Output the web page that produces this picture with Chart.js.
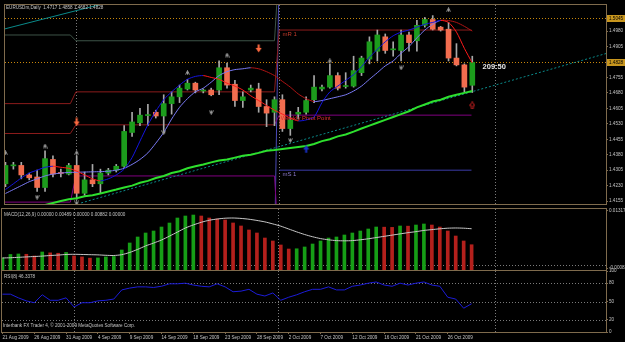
<!DOCTYPE html>
<html><head><meta charset="utf-8"><title>EURUSDm Daily</title>
<script src="https://cdn.jsdelivr.net/npm/chart.js@4/dist/chart.umd.min.js"></script>
<style>
html,body{margin:0;padding:0;background:#000;overflow:hidden}
#wrap{position:relative;width:625px;height:342px;background:#000}
#wrap canvas{position:absolute;left:0}
</style></head><body>
<div id="wrap">
<canvas id="cMain" width="625" height="209" style="top:0px"></canvas>
<canvas id="cMacd" width="625" height="70" style="top:205px"></canvas>
<canvas id="cRsi" width="625" height="77" style="top:265px"></canvas>
</div>
<script>
// ---------- data ----------
const dates = ['21 Aug 2009','23 Aug 2009','24 Aug 2009','25 Aug 2009','26 Aug 2009','27 Aug 2009','28 Aug 2009','30 Aug 2009','31 Aug 2009',
 '1 Sep 2009','2 Sep 2009','3 Sep 2009','4 Sep 2009','6 Sep 2009','7 Sep 2009','8 Sep 2009','9 Sep 2009','10 Sep 2009','11 Sep 2009','13 Sep 2009',
 '14 Sep 2009','15 Sep 2009','16 Sep 2009','17 Sep 2009','18 Sep 2009','20 Sep 2009','21 Sep 2009','22 Sep 2009','23 Sep 2009','24 Sep 2009',
 '25 Sep 2009','27 Sep 2009','28 Sep 2009','29 Sep 2009','30 Sep 2009','1 Oct 2009','2 Oct 2009','4 Oct 2009','5 Oct 2009','6 Oct 2009',
 '7 Oct 2009','8 Oct 2009','9 Oct 2009','11 Oct 2009','12 Oct 2009','13 Oct 2009','14 Oct 2009','15 Oct 2009','16 Oct 2009','18 Oct 2009',
 '19 Oct 2009','20 Oct 2009','21 Oct 2009','22 Oct 2009','23 Oct 2009','25 Oct 2009','26 Oct 2009','27 Oct 2009','28 Oct 2009','29 Oct 2009'];
const open = [1.4239,1.4326,1.4328,1.4282,1.4272,1.4221,1.4357,1.4291,1.4286,1.4328,
 1.4193,1.4258,1.4239,1.4291,1.4305,1.4324,1.4488,1.4535,1.4570,1.4586,
 1.4568,1.4628,1.4661,1.4699,1.4727,1.4689,1.4694,1.4694,1.4802,1.4722,
 1.4643,1.4694,1.4699,1.4614,1.4586,1.4647,1.4507,1.4577,1.4586,1.4647,
 1.4699,1.4708,1.4764,1.4711,1.4713,1.4778,1.4844,1.4882,1.4952,1.4889,
 1.4886,1.4961,1.4933,1.5008,1.5036,1.4999,1.4989,1.4849,1.4816,1.4717];
const high = [1.4343,1.4343,1.4343,1.4291,1.4305,1.4399,1.4375,1.4310,1.4338,1.4375,
 1.4296,1.4333,1.4310,1.4314,1.4333,1.4521,1.4586,1.4605,1.4624,1.4596,
 1.4671,1.4685,1.4718,1.4746,1.4732,1.4699,1.4703,1.4835,1.4825,1.4741,
 1.4685,1.4718,1.4727,1.4647,1.4661,1.4671,1.4591,1.4610,1.4661,1.4764,
 1.4718,1.4821,1.4778,1.4778,1.4858,1.4858,1.4952,1.4985,1.4966,1.4928,
 1.4985,1.4975,1.5032,1.5046,1.5055,1.5003,1.5022,1.4919,1.4821,1.4858];
const low = [1.4225,1.4310,1.4263,1.4258,1.4202,1.4202,1.4272,1.4272,1.4282,1.4164,
 1.4183,1.4225,1.4193,1.4282,1.4296,1.4319,1.4469,1.4521,1.4521,1.4558,
 1.4488,1.4577,1.4633,1.4694,1.4680,1.4680,1.4666,1.4671,1.4703,1.4614,
 1.4610,1.4685,1.4586,1.4516,1.4521,1.4493,1.4474,1.4553,1.4577,1.4633,
 1.4689,1.4703,1.4694,1.4703,1.4708,1.4764,1.4821,1.4835,1.4872,1.4858,
 1.4835,1.4882,1.4882,1.4999,1.4985,1.4980,1.4835,1.4811,1.4685,1.4682];
const close = [1.4328,1.4328,1.4282,1.4268,1.4221,1.4361,1.4286,1.4289,1.4328,1.4193,
 1.4258,1.4239,1.4291,1.4305,1.4324,1.4493,1.4539,1.4572,1.4572,1.4568,
 1.4628,1.4661,1.4703,1.4727,1.4694,1.4691,1.4671,1.4802,1.4718,1.4643,
 1.4661,1.4703,1.4614,1.4582,1.4647,1.4507,1.4549,1.4586,1.4643,1.4708,
 1.4708,1.4764,1.4703,1.4713,1.4788,1.4849,1.4928,1.4961,1.4886,1.4891,
 1.4961,1.4924,1.5008,1.5036,1.4989,1.4985,1.4849,1.4816,1.4708,1.4828];
const fastMA = [1.4211,1.4239,1.4267,1.4291,1.4305,1.4319,1.4324,1.4319,1.4314,1.4300,
 1.4282,1.4263,1.4253,1.4263,1.4282,1.4310,1.4366,1.4446,1.4525,1.4591,
 1.4647,1.4685,1.4718,1.4746,1.4760,1.4764,1.4755,1.4746,1.4727,1.4713,
 1.4694,1.4666,1.4643,1.4619,1.4596,1.4577,1.4558,1.4544,1.4549,1.4563,
 1.4633,1.4685,1.4713,1.4741,1.4769,1.4807,1.4853,1.4891,1.4928,1.4957,
 1.4975,1.4985,1.4999,1.5013,1.5022,1.5032,1.5022,1.4975,1.4896,1.4825];
const slowMA = [1.4192,1.4211,1.4230,1.4249,1.4263,1.4277,1.4286,1.4291,1.4294,1.4295,
 1.4296,1.4297,1.4298,1.4300,1.4305,1.4314,1.4333,1.4357,1.4389,1.4436,
 1.4488,1.4553,1.4610,1.4652,1.4685,1.4703,1.4732,1.4764,1.4783,1.4793,
 1.4797,1.4802,1.4797,1.4783,1.4764,1.4736,1.4708,1.4675,1.4652,1.4638,
 1.4643,1.4652,1.4661,1.4671,1.4689,1.4713,1.4746,1.4778,1.4811,1.4835,
 1.4872,1.4905,1.4947,1.4985,1.5013,1.5032,1.5031,1.5022,1.5003,1.4980];
const greenMA = [1.4103,1.4108,1.4113,1.4117,1.4127,1.4136,1.4146,1.4155,1.4164,1.4169,
 1.4178,1.4183,1.4192,1.4202,1.4211,1.4221,1.4230,1.4244,1.4253,1.4267,
 1.4277,1.4291,1.4300,1.4314,1.4324,1.4333,1.4343,1.4352,1.4357,1.4366,
 1.4375,1.4380,1.4389,1.4399,1.4403,1.4408,1.4413,1.4418,1.4422,1.4432,
 1.4446,1.4455,1.4469,1.4478,1.4492,1.4507,1.4521,1.4535,1.4549,1.4563,
 1.4577,1.4591,1.4610,1.4624,1.4638,1.4647,1.4661,1.4671,1.4680,1.4689];
const macdHist = [0.00164,0.00250,0.00262,0.00255,0.00213,0.00311,0.00290,0.00280,0.00300,0.00213,
 0.00190,0.00160,0.00165,0.00190,0.00200,0.00360,0.00532,0.00679,0.00777,0.00826,
 0.00924,0.01022,0.01145,0.01194,0.01218,0.01194,0.01145,0.01121,0.01096,0.01023,
 0.00949,0.00851,0.00777,0.00654,0.00581,0.00483,0.00384,0.00390,0.00434,0.00507,
 0.00581,0.00654,0.00679,0.00728,0.00777,0.00826,0.00875,0.00924,0.00920,0.00915,
 0.00949,0.00945,0.00973,0.00998,0.00973,0.00924,0.00826,0.00703,0.00581,0.00489];
const macdSignal = [0.00164,0.00170,0.00180,0.00190,0.00200,0.00210,0.00225,0.00235,0.00250,0.00255,
 0.00250,0.00245,0.00240,0.00230,0.00225,0.00245,0.00300,0.00375,0.00460,0.00530,
 0.00605,0.00700,0.00800,0.00900,0.00975,0.01040,0.01090,0.01120,0.01140,0.01145,
 0.01135,0.01115,0.01085,0.01050,0.01000,0.00945,0.00875,0.00805,0.00740,0.00685,
 0.00640,0.00610,0.00590,0.00585,0.00590,0.00610,0.00635,0.00665,0.00695,0.00725,
 0.00755,0.00785,0.00810,0.00840,0.00860,0.00880,0.00895,0.00900,0.00895,0.00882];
const rsi = [62,62,56,51,48,61,52,52,56,41,48,48,51,52,54,69,72,74,74,73,
 75,79,79,80,77,75,74,79,74,66,67,70,62,59,64,52,57,61,66,70,
 70,74,69,69,75,77,80,82,77,75,80,77,80,82,77,75,57,54,39,46.34];

const priceTicks = [1.4980,1.4905,1.4830,1.4755,1.4680,1.4605,1.4530,1.4455,1.4380,1.4305,1.4230,1.4155];
const hLevels = [1.5045, 1.4828];
const macdTicks = [0.01317, -0.00082];
const rsiTicks = [100, 80, 50, 20, 0];
const rsiLevels = [80, 50, 20];

// monthly pivot levels (Aug, Sep, Oct) and the bar spans they cover
const monthStart = [-1, 8.9, 34.6];
const monthEnd = [8.2, 34.0, 58.9];
const mR1 = [1.4628, 1.4685, 1.4985];
const mR2 = [1.4961, 1.4933, 1.5300];
const mPivot = [1.4483, 1.4525, 1.4572];
const mS1 = [1.4150, 1.4277, 1.3900];
const mS1Oct = [null, null, 1.4305];
const mCross = [null, 1.3900, 1.5300];
// trend lines (bar index, price)
const trendAx = [9.56, 76], trendAy = [1.4146, 1.4872];
const trendBx = [-0.25, 12.7], trendBy = [1.4989, 1.5116];
const separators = [8.95, 34.6, 61.9];
const fractUpX = [0, 5, 9, 23, 28, 41, 56], fractUpY = [1.4389, 1.4422, 1.4389, 1.4778, 1.4863, 1.4835, 1.5083];
const fractDnX = [4, 9, 20, 26, 36, 50], fractDnY = [1.4174, 1.4146, 1.4488, 1.4586, 1.4450, 1.4802];
const sigDownX = [9, 32], sigDownY = [1.4539, 1.4896];
const sigUpX = [38], sigUpY = [1.4408];
const sigUp2X = [59], sigUp2Y = [1.4619];

// ---------- style ----------
const TAN = '#7f6b4d', TXT = '#c4c4c4', BULL = '#1c9c1c', BEAR = '#f26d4f', WICK = '#a8a8a8';
const FONT = 'Liberation Sans';
Chart.defaults.font.family = FONT;
const X_MIN = -0.06, X_MAX = 75.9;
const Y_MAX = 1.51065, Y_MIN = 1.41409;
const MACD_MAX = 0.01366, MACD_MIN = -0.00131;

const idx = open.map((_, i) => i);
const pts = arr => idx.map(i => ({x: i, y: arr[i]}));
const xy = (xs, ys) => xs.map((x, k) => ({x, y: ys[k]}));
function steps(vals) {
  const d = [];
  vals.forEach((v, k) => { if (v !== null) { d.push({x: monthStart[k], y: v}); d.push({x: monthEnd[k], y: v}); } });
  return d;
}
function arrowImg(color, up, outline, w, h) {
  const c = document.createElement('canvas'); c.width = w; c.height = h;
  const g = c.getContext('2d');
  const sw = Math.max(1, Math.round(w / 3)), hh = Math.round(h * 0.55);
  const p = [[w/2,0.5],[w-0.5,hh],[w/2+sw/2,hh],[w/2+sw/2,h-0.5],[w/2-sw/2,h-0.5],[w/2-sw/2,hh],[0.5,hh]];
  g.beginPath();
  p.forEach(([x, y], i) => { const yy = up ? y : h - y; i ? g.lineTo(x, yy) : g.moveTo(x, yy); });
  g.closePath();
  if (outline) { g.strokeStyle = color; g.lineWidth = 1; g.stroke(); } else { g.fillStyle = color; g.fill(); }
  return c;
}
function fractImg(up) {
  const c = document.createElement('canvas'); c.width = 5; c.height = 5;
  const g = c.getContext('2d'); g.strokeStyle = '#9a9a9a'; g.lineWidth = 1;
  g.beginPath();
  if (up) { g.moveTo(0.5, 4.5); g.lineTo(2.5, 0.5); g.lineTo(4.5, 4.5); g.moveTo(2.5, 1); g.lineTo(2.5, 4.5); }
  else { g.moveTo(0.5, 0.5); g.lineTo(2.5, 4.5); g.lineTo(4.5, 0.5); g.moveTo(2.5, 0.5); g.lineTo(2.5, 4); }
  g.stroke();
  return c;
}

const mt = {
  id: 'mt',
  beforeDatasetsDraw(chart, a, o) {
    const {ctx, chartArea: A, scales} = chart; const x = scales.x, y = scales.y;
    ctx.save(); ctx.beginPath(); ctx.rect(A.left, A.top, A.right - A.left, A.bottom - A.top); ctx.clip();
    ctx.lineWidth = 1;
    (o.hlines || []).forEach(h => {
      const py = Math.round(y.getPixelForValue(h.v)) + 0.5;
      ctx.strokeStyle = h.color; ctx.setLineDash(h.dash || []);
      ctx.beginPath(); ctx.moveTo(A.left, py); ctx.lineTo(A.right, py); ctx.stroke();
    });
    (o.vlines || []).forEach(v => {
      const px = Math.round(x.getPixelForValue(v)) + 0.5;
      ctx.strokeStyle = '#7a7a7a'; ctx.setLineDash([1, 2]);
      ctx.beginPath(); ctx.moveTo(px, A.top); ctx.lineTo(px, A.bottom); ctx.stroke();
    });
    ctx.restore();
  },
  afterDraw(chart, a, o) {
    const {ctx, chartArea: A, scales} = chart; const x = scales.x, y = scales.y;
    ctx.save();
    ctx.strokeStyle = TAN; ctx.lineWidth = 1; ctx.setLineDash([]);
    ctx.strokeRect(A.left - 0.5, A.top - 0.5, A.right - A.left + 1, A.bottom - A.top + 1);
    ctx.textBaseline = 'middle'; ctx.textAlign = 'left';
    (o.texts || []).forEach(t => {
      ctx.font = (t.bold ? 'bold ' : '') + t.size + 'px ' + FONT; ctx.fillStyle = t.color;
      ctx.fillText(t.text, x.getPixelForValue(t.x), y.getPixelForValue(t.y));
    });
    (o.fixed || []).forEach(t => {
      ctx.font = '4.6px ' + FONT; ctx.fillStyle = TXT;
      ctx.fillText(t.text, A.left + t.dx, A.top + t.dy);
    });
    (o.boxes || []).forEach(v => {
      const py = Math.round(y.getPixelForValue(v));
      ctx.fillStyle = '#c8961e'; ctx.fillRect(A.right + 1, py - 3, 18, 7);
      ctx.fillStyle = '#000'; ctx.font = '4.6px ' + FONT;
      ctx.fillText(v.toFixed(4), A.right + 3, py + 0.5);
    });
    ctx.restore();
  }
};

const xBase = {type: 'linear', min: X_MIN, max: X_MAX, offset: false};
const yAxis = (min, max, tickVals, fmt) => ({
  position: 'right', min, max,
  afterFit: s => { s.width = 19; },
  afterBuildTicks: s => { s.ticks = tickVals.map(v => ({value: v})); },
  ticks: {callback: fmt, color: TXT, font: {size: 4.6}, padding: 1, autoSkip: false},
  grid: {drawOnChartArea: false, drawTicks: true, tickLength: 2, color: TAN},
  border: {color: TAN}
});
const common = {responsive: false, animation: false, events: [],
  plugins: {legend: {display: false}, tooltip: {enabled: false}}};

const lineDS = (data, color, width, order, extra) => Object.assign({type: 'line', data, borderColor: color,
  borderWidth: width, pointRadius: 0, tension: 0, order}, extra || {});
const mkSeg = (col, octCol) => ({borderColor: c => c.p0.parsed.x >= 34.0 ? octCol : col});

// ---------- main price chart ----------
new Chart(document.getElementById('cMain'), {
  type: 'bar',
  data: {datasets: [
    lineDS(steps(mR2), '#3d5347', 1, 30),
    lineDS(steps(mR1), '#8c1c1c', 1, 30),
    lineDS(steps(mPivot), '#8c1c1c', 1, 30, {segment: mkSeg('#8c1c1c', '#800080')}),
    lineDS(steps(mS1), '#800080', 1, 30),
    lineDS(steps(mS1Oct), '#3c3ca8', 1, 30),
    lineDS(steps(mCross), '#4a4ab8', 1, 30),
    lineDS(xy(trendAx, trendAy), '#0a8a8a', 1, 29, {borderDash: [2, 2]}),
    lineDS(xy(trendBx, trendBy), '#0a8a8a', 1, 29),
    {type: 'bar', data: idx.map(i => ({x: i, y: [low[i], high[i]]})), backgroundColor: WICK,
      barThickness: 1, grouped: false, borderWidth: 0, order: 20},
    {type: 'bar', data: idx.map(i => ({x: i, y: [open[i], close[i]]})),
      backgroundColor: idx.map(i => close[i] >= open[i] ? BULL : BEAR),
      barThickness: 5, grouped: false, borderWidth: 0, minBarLength: 1, order: 19},
    lineDS(pts(greenMA), '#2ee02e', 2, 8),
    lineDS(pts(slowMA), '#7a7af5', 1, 7, {tension: 0.25,
      segment: {borderColor: c => c.p1.parsed.y >= c.p0.parsed.y ? '#7a7af5' : '#b01414'}}),
    lineDS(pts(fastMA), '#1414e0', 1, 6, {tension: 0.25,
      segment: {borderColor: c => c.p1.parsed.y >= c.p0.parsed.y ? '#1414e0' : '#ff1a1a'}}),
    {type: 'line', data: xy(fractUpX, fractUpY), showLine: false, pointStyle: fractImg(true), order: 2},
    {type: 'line', data: xy(fractDnX, fractDnY), showLine: false, pointStyle: fractImg(false), order: 2},
    {type: 'line', data: xy(sigDownX, sigDownY), showLine: false, pointStyle: arrowImg('#ff6a40', false, false, 7, 9), order: 1},
    {type: 'line', data: xy(sigUpX, sigUpY), showLine: false, pointStyle: arrowImg('#1830c8', true, false, 7, 9), order: 1},
    {type: 'line', data: xy(sigUp2X, sigUp2Y), showLine: false, pointStyle: arrowImg('#c82020', true, true, 6, 8), order: 1}
  ]},
  options: Object.assign({}, common, {
    layout: {padding: {left: 2, top: 2, right: 0, bottom: 1}},
    plugins: Object.assign({}, common.plugins, {mt: {
      hlines: hLevels.map(v => ({v, color: '#c8860b', dash: [1, 2]})),
      vlines: separators,
      boxes: hLevels,
      texts: [
        {x: 35, y: 1.4966, text: 'mR 1', color: '#c03a2a', size: 6},
        {x: 34.8, y: 1.4558, text: 'Weekly Pivot Point', color: '#e03030', size: 6},
        {x: 35, y: 1.4286, text: 'mS 1', color: '#8a78c8', size: 6},
        {x: 60.3, y: 1.4806, text: '209:50', color: '#e8e8e8', size: 7.5, bold: true}
      ],
      fixed: [{dx: 1, dy: 3, text: 'EURUSDm,Daily  1.4717 1.4858 1.4682 1.4828'}]
    }}),
    scales: {
      x: Object.assign({}, xBase, {display: false}),
      y: yAxis(Y_MIN, Y_MAX, priceTicks, v => Number(v).toFixed(4))
    }
  }),
  plugins: [mt]
});

// ---------- MACD ----------
new Chart(document.getElementById('cMacd'), {
  type: 'bar',
  data: {datasets: [
    {type: 'bar', data: pts(macdHist), base: MACD_MIN,
      backgroundColor: idx.map(i => (i === 0 || macdHist[i] >= macdHist[i - 1]) ? '#169e16' : '#b4201c'),
      barThickness: 3, grouped: false, borderWidth: 0, order: 5},
    lineDS(pts(macdSignal), '#c8c8c8', 1, 1, {tension: 0.25})
  ]},
  options: Object.assign({}, common, {
    layout: {padding: {left: 2, top: 4, right: 0, bottom: 5}},
    plugins: Object.assign({}, common.plugins, {mt: {
      hlines: [{v: 0, color: '#7a7a7a', dash: [1, 2]}],
      vlines: separators,
      fixed: [{dx: 2, dy: 6, text: 'MACD(12,26,9) 0.00000 0.00489 0.00000 0.00882 0.00000'}]
    }}),
    scales: {
      x: Object.assign({}, xBase, {display: false}),
      y: yAxis(MACD_MIN, MACD_MAX, macdTicks, v => Number(v).toFixed(5))
    }
  }),
  plugins: [mt]
});

// ---------- RSI ----------
const labelIdx = idx.filter(i => i % 4 === 0);
new Chart(document.getElementById('cRsi'), {
  type: 'line',
  data: {datasets: [lineDS(pts(rsi), '#1c1cd8', 1, 1)]},
  options: Object.assign({}, common, {
    layout: {padding: {left: 2, top: 6, right: 0, bottom: 0}},
    plugins: Object.assign({}, common.plugins, {mt: {
      hlines: rsiLevels.map(v => ({v, color: '#7a7a7a', dash: [1, 2]})),
      vlines: separators,
      fixed: [{dx: 2, dy: 6, text: 'RSI(8) 46.3378'},
              {dx: 1, dy: 55, text: 'Interbank FX Trader 4, \u00a9 2001-2009 MetaQuotes Software Corp.'}]
    }}),
    scales: {
      x: Object.assign({}, xBase, {
        display: true, position: 'bottom',
        afterFit: s => { s.height = 10; },
        afterBuildTicks: s => { s.ticks = labelIdx.map(v => ({value: v})); },
        ticks: {callback: v => dates[v], align: 'start', maxRotation: 0, autoSkip: false,
          color: TXT, font: {size: 4.6}, padding: 1},
        grid: {drawOnChartArea: false, drawTicks: true, tickLength: 2, color: TAN},
        border: {color: TAN}
      }),
      y: yAxis(0, 100, rsiTicks, v => String(v))
    }
  }),
  plugins: [mt]
});
</script>
</body></html>
